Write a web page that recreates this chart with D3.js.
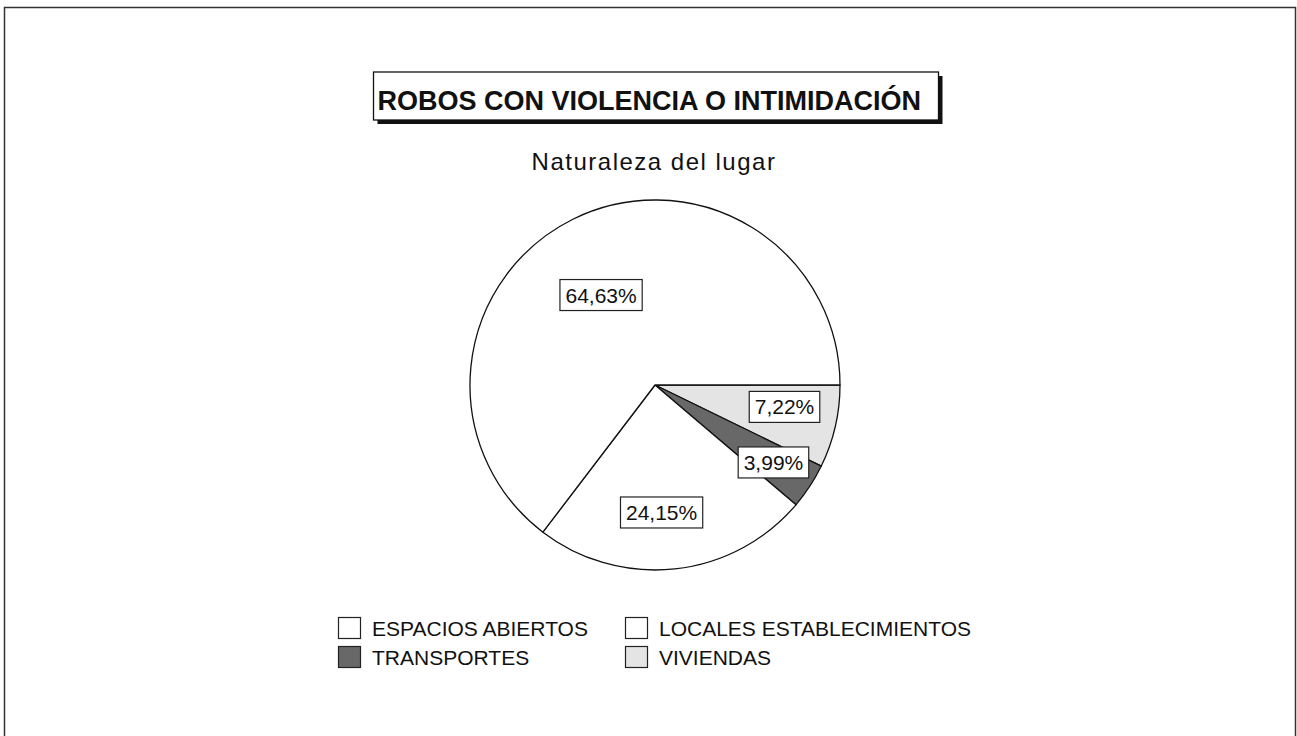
<!DOCTYPE html>
<html>
<head>
<meta charset="utf-8">
<script src="https://cdn.jsdelivr.net/npm/d3@7"></script>
<style>
  body { margin: 0; background: #fff; }
  text { font-family: "Liberation Sans", Arial, sans-serif; fill: #111; }
</style>
</head>
<body>
<div id="chart"></div>
<script>
// Data, in drawing order (clockwise from 3 o'clock)
const categories = ["VIVIENDAS", "TRANSPORTES", "LOCALES ESTABLECIMIENTOS", "ESPACIOS ABIERTOS"];
const values = [7.22, 3.99, 24.15, 64.63];
const labels = ["7,22%", "3,99%", "24,15%", "64,63%"];
const colors = ["#e4e4e4", "#686868", "#ffffff", "#ffffff"];

// Legend order as shown (two columns)
const legendOrder = ["ESPACIOS ABIERTOS", "LOCALES ESTABLECIMIENTOS", "TRANSPORTES", "VIVIENDAS"];

const title = "ROBOS CON VIOLENCIA O INTIMIDACIÓN";
const subtitle = "Naturaleza del lugar";

const width = 1297, height = 736;
const center = { x: 655, y: 385 };
const radius = 185;
// label placement: share of the radius, and a small turn (degrees) off the slice middle
const labelRadius = [0.71, 0.765, 0.69, 0.567];
const labelTurn = [-3.4, 0, 3.2, -4.6];

const svg = d3.select("#chart")
    .append("svg")
    .attr("width", width)
    .attr("height", height);

// outer frame
svg.append("rect")
    .attr("x", 4.5).attr("y", 7.5)
    .attr("width", 1291).attr("height", 760)
    .attr("fill", "none")
    .attr("stroke", "#333")
    .attr("stroke-width", 1.5);

// title box with shadow
const tb = { x: 373.5, y: 72, w: 565, h: 48 };
svg.append("rect")
    .attr("x", tb.x + 4).attr("y", tb.y + 4)
    .attr("width", tb.w).attr("height", tb.h)
    .attr("fill", "#111");
svg.append("rect")
    .attr("x", tb.x).attr("y", tb.y)
    .attr("width", tb.w).attr("height", tb.h)
    .attr("fill", "#fff")
    .attr("stroke", "#111")
    .attr("stroke-width", 1.3);
svg.append("text")
    .attr("x", tb.x + 4)
    .attr("y", 110)
    .style("font-size", "27px")
    .style("font-weight", "bold")
    .text(title);

svg.append("text")
    .attr("x", 654)
    .attr("y", 169.5)
    .attr("text-anchor", "middle")
    .style("font-size", "24px")
    .style("letter-spacing", "1.5px")
    .text(subtitle);

// pie
const pie = d3.pie()
    .sort(null)
    .value(d => d)
    .startAngle(Math.PI / 2)
    .endAngle(Math.PI / 2 + 2 * Math.PI);

const arcs = pie(values);
const arc = d3.arc().innerRadius(0).outerRadius(radius);

const g = svg.append("g")
    .attr("transform", `translate(${center.x},${center.y})`);

g.selectAll("path.slice")
    .data(arcs)
    .enter()
    .append("path")
    .attr("class", "slice")
    .attr("d", arc)
    .attr("fill", (d, i) => colors[i])
    .attr("stroke", "#111")
    .attr("stroke-width", 1.3)
    .attr("stroke-linejoin", "round");

// percentage labels in boxes
const lbl = g.selectAll("g.lbl")
    .data(arcs)
    .enter()
    .append("g")
    .attr("class", "lbl")
    .attr("transform", (d, i) => {
        const r = radius * labelRadius[i];
        const turn = labelTurn[i] * Math.PI / 180;
        const c = d3.arc().innerRadius(r).outerRadius(r)
            .centroid({ startAngle: d.startAngle + turn, endAngle: d.endAngle + turn });
        return `translate(${c[0]},${c[1]})`;
    });

lbl.append("text")
    .attr("text-anchor", "middle")
    .attr("y", 7.5)
    .style("font-size", "21px")
    .text((d, i) => labels[i]);

lbl.each(function () {
    const t = d3.select(this).select("text").node().getBBox();
    d3.select(this).insert("rect", "text")
        .attr("x", t.x - 5.5)
        .attr("y", -15.5)
        .attr("width", t.width + 11)
        .attr("height", 31)
        .attr("fill", "#fff")
        .attr("stroke", "#222")
        .attr("stroke-width", 1.2);
});

// legend
const legend = svg.append("g").attr("class", "legend");
const colX = [338, 625];
const rowY = [617, 646];

legend.selectAll("g.item")
    .data(legendOrder)
    .enter()
    .append("g")
    .attr("class", "item")
    .attr("transform", (d, i) => `translate(${colX[i % 2]},${rowY[Math.floor(i / 2)]})`)
    .each(function (d) {
        const item = d3.select(this);
        item.append("rect")
            .attr("x", 0.5).attr("y", 0.5)
            .attr("width", 22).attr("height", 21)
            .attr("fill", colors[categories.indexOf(d)])
            .attr("stroke", "#222")
            .attr("stroke-width", 1.2);
        item.append("text")
            .attr("x", 34)
            .attr("y", 18.5)
            .style("font-size", "21px")
            .text(d);
    });
</script>
</body>
</html>
